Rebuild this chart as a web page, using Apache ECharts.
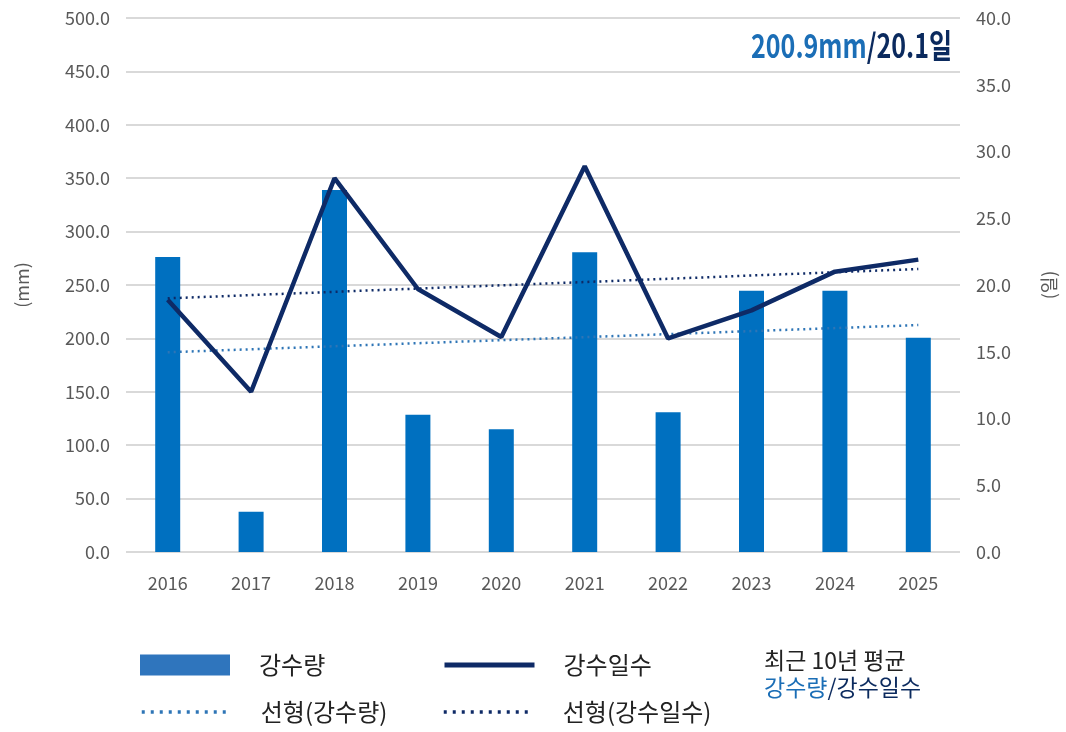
<!DOCTYPE html>
<html>
<head>
<meta charset="utf-8">
<script src="https://cdn.jsdelivr.net/npm/echarts@6/dist/echarts.min.js"></script>
<style>
  html, body { margin: 0; padding: 0; background: #fff; }
  #chart { width: 1066px; height: 732px; }
</style>
</head>
<body>
<div id="chart"></div>
<script>
// 연도별 강수량 / 강수일수
const years = ['2016', '2017', '2018', '2019', '2020', '2021', '2022', '2023', '2024', '2025']
const rainfall = [276.2, 37.6, 339.0, 128.5, 115.0, 280.7, 130.8, 244.6, 244.6, 200.5]
const rainDays = [18.9, 12.0, 28.0, 19.7, 16.1, 28.9, 16.0, 18.1, 21.0, 21.9]
// 선형 추세선 (시작/끝 값, 그림에서 읽음)
const rainfallTrend = [187.0, 212.5]
const rainDaysTrend = [19.0, 21.2]
const avgRainfall = '200.9mm'
const avgDays = '/20.1일'

const FONT = '"Noto Sans CJK KR", "Noto Sans", sans-serif'
const BAR = '#0070C0'
const NAVY = '#0E2A66'
const LIGHT = '#2E75B6'
const GRAY = '#595959'

const chart = echarts.init(document.getElementById('chart'), null, { renderer: 'canvas' })

const legendBase = {
  orient: 'horizontal',
  padding: 0,
  itemWidth: 90,
  itemHeight: 21,
  textStyle: { fontFamily: FONT, fontSize: 24, color: '#222', padding: [0, 0, 0, 24] }
}
// 선 범례에는 원 기호를 숨김
const noSymbol = { color: 'rgba(0,0,0,0)', borderWidth: 0, opacity: 0 }

chart.setOption({
  animation: false,
  textStyle: { fontFamily: FONT },
  grid: { left: 126, right: 106, top: 18, bottom: 180 },
  legend: [
    Object.assign({}, legendBase, { data: [{ name: '강수량', icon: 'rect', itemStyle: { color: '#2F75BD' } }], left: 140, top: 653 }),
    Object.assign({}, legendBase, { data: ['강수일수'], left: 442, top: 653, itemStyle: noSymbol, lineStyle: { width: 5 } }),
    Object.assign({}, legendBase, { data: ['선형(강수량)'], left: 140, top: 700, itemStyle: noSymbol, lineStyle: { width: 3.5, type: [3, 6] } }),
    Object.assign({}, legendBase, { data: ['선형(강수일수)'], left: 442, top: 700, itemStyle: noSymbol, lineStyle: { width: 3.5, type: [3, 6] } })
  ],
  graphic: [
    {
      type: 'text',
      x: 952,
      y: 29,
      scaleX: 0.76,
      style: {
        text: '{a|' + avgRainfall + '}{b|' + avgDays + '}',
        align: 'right',
        rich: {
          a: { fontFamily: FONT, fontSize: 33, fontWeight: 'bold', fill: '#1B6EB6' },
          b: { fontFamily: FONT, fontSize: 33, fontWeight: 'bold', fill: '#0B2A5E' }
        }
      }
    },
    {
      type: 'text',
      x: 764,
      y: 649,
      style: {
        text: '최근 10년 평균',
        font: '23px ' + FONT,
        fill: '#222'
      }
    },
    {
      type: 'text',
      x: 764,
      y: 676,
      style: {
        text: '{a|강수량}{b|/강수일수}',
        rich: {
          a: { fontFamily: FONT, fontSize: 23, fill: '#1B6EB6' },
          b: { fontFamily: FONT, fontSize: 23, fill: '#0B2A5E' }
        }
      }
    }
  ],
  xAxis: {
    type: 'category',
    data: years,
    axisLine: { show: false },
    axisTick: { show: false },
    axisLabel: { fontSize: 18, color: GRAY, margin: 22, fontFamily: FONT }
  },
  yAxis: [
    {
      type: 'value',
      min: 0,
      max: 500,
      interval: 50,
      name: '(mm)',
      nameLocation: 'middle',
      nameRotate: 90,
      nameGap: 95,
      nameTextStyle: { fontSize: 18, color: GRAY, fontFamily: FONT },
      axisLabel: { fontSize: 18, color: GRAY, margin: 16, fontFamily: FONT, formatter: v => v.toFixed(1) },
      splitLine: { lineStyle: { color: '#D9D9D9', width: 2 } },
      axisLine: { show: false },
      axisTick: { show: false }
    },
    {
      type: 'value',
      min: 0,
      max: 40,
      interval: 5,
      name: '(일)',
      nameLocation: 'middle',
      nameRotate: 90,
      nameGap: 80,
      nameTextStyle: { fontSize: 18, color: GRAY, fontFamily: FONT },
      axisLabel: { fontSize: 18, color: GRAY, margin: 16, fontFamily: FONT, formatter: v => v.toFixed(1) },
      splitLine: { show: false },
      axisLine: { show: false },
      axisTick: { show: false }
    }
  ],
  series: [
    {
      name: '강수량',
      type: 'bar',
      barWidth: 25,
      itemStyle: { color: BAR },
      data: rainfall,
      z: 2
    },
    {
      name: '선형(강수량)',
      type: 'line',
      symbol: 'none',
      lineStyle: { color: LIGHT, width: 2.5, type: [2, 4] },
      itemStyle: { color: LIGHT },
      data: [[0, rainfallTrend[0]], [9, rainfallTrend[1]]],
      z: 3
    },
    {
      name: '선형(강수일수)',
      type: 'line',
      yAxisIndex: 1,
      symbol: 'none',
      lineStyle: { color: NAVY, width: 2.5, type: [2, 4] },
      itemStyle: { color: NAVY },
      data: [[0, rainDaysTrend[0]], [9, rainDaysTrend[1]]],
      z: 3
    },
    {
      name: '강수일수',
      type: 'line',
      yAxisIndex: 1,
      symbol: 'none',
      lineStyle: { color: NAVY, width: 4.5 },
      itemStyle: { color: NAVY },
      data: rainDays,
      z: 4
    }
  ]
})
</script>
</body>
</html>
